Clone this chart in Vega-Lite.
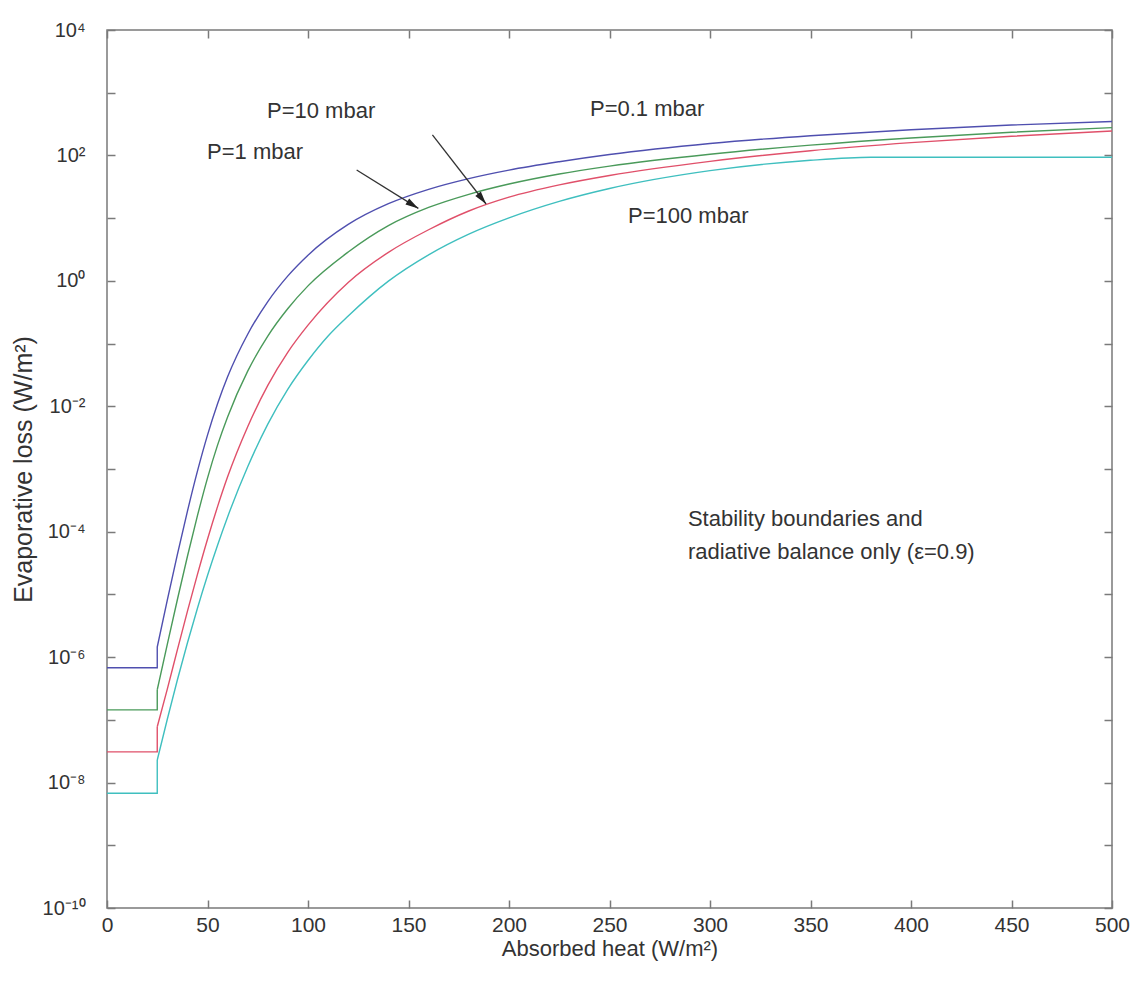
{
  "$schema": "https://vega.github.io/schema/vega-lite/v6.json",
  "width": 1005,
  "height": 878,
  "autosize": {"type": "none"},
  "padding": {"left": 107, "top": 30, "right": 22, "bottom": 74},
  "background": "white",
  "config": {
    "view": {"stroke": "#7a7a7a", "strokeWidth": 1.5},
    "font": "Liberation Sans",
    "axis": {
      "grid": false,
      "domain": false,
      "tickColor": "#7a7a7a",
      "tickWidth": 1.5,
      "tickSize": -8,
      "labelColor": "#333333",
      "labelFont": "Liberation Sans",
      "labelFlush": false,
      "labelOverlap": false,
      "labelBound": false,
      "titleColor": "#333333",
      "titleFont": "Liberation Sans",
      "titleFontWeight": "normal"
    }
  },
  "datasets": {
    "curves": [
      {"P": "0.1 mbar", "i": 0, "heat": 0, "loss": 6.76e-7},
      {"P": "0.1 mbar", "i": 1, "heat": 25, "loss": 6.76e-7},
      {"P": "0.1 mbar", "i": 2, "heat": 25, "loss": 1.45e-6},
      {"P": "0.1 mbar", "i": 3, "heat": 30, "loss": 8.13e-6},
      {"P": "0.1 mbar", "i": 4, "heat": 35, "loss": 4.32e-5},
      {"P": "0.1 mbar", "i": 5, "heat": 40, "loss": 2.11e-4},
      {"P": "0.1 mbar", "i": 6, "heat": 45, "loss": 9.23e-4},
      {"P": "0.1 mbar", "i": 7, "heat": 50, "loss": 3.47e-3},
      {"P": "0.1 mbar", "i": 8, "heat": 55, "loss": 1.096e-2},
      {"P": "0.1 mbar", "i": 9, "heat": 60, "loss": 2.95e-2},
      {"P": "0.1 mbar", "i": 10, "heat": 70, "loss": 0.141},
      {"P": "0.1 mbar", "i": 11, "heat": 80, "loss": 0.468},
      {"P": "0.1 mbar", "i": 12, "heat": 90, "loss": 1.202},
      {"P": "0.1 mbar", "i": 13, "heat": 100, "loss": 2.57},
      {"P": "0.1 mbar", "i": 14, "heat": 120, "loss": 7.94},
      {"P": "0.1 mbar", "i": 15, "heat": 140, "loss": 17.0},
      {"P": "0.1 mbar", "i": 16, "heat": 160, "loss": 28.8},
      {"P": "0.1 mbar", "i": 17, "heat": 180, "loss": 42.7},
      {"P": "0.1 mbar", "i": 18, "heat": 200, "loss": 58.3},
      {"P": "0.1 mbar", "i": 19, "heat": 225, "loss": 79.4},
      {"P": "0.1 mbar", "i": 20, "heat": 250, "loss": 103.5},
      {"P": "0.1 mbar", "i": 21, "heat": 300, "loss": 155},
      {"P": "0.1 mbar", "i": 22, "heat": 350, "loss": 206.5},
      {"P": "0.1 mbar", "i": 23, "heat": 400, "loss": 257},
      {"P": "0.1 mbar", "i": 24, "heat": 450, "loss": 305.5},
      {"P": "0.1 mbar", "i": 25, "heat": 500, "loss": 347},

      {"P": "1 mbar", "i": 0, "heat": 0, "loss": 1.445e-7},
      {"P": "1 mbar", "i": 1, "heat": 25, "loss": 1.445e-7},
      {"P": "1 mbar", "i": 2, "heat": 25, "loss": 3.02e-7},
      {"P": "1 mbar", "i": 3, "heat": 30, "loss": 1.603e-6},
      {"P": "1 mbar", "i": 4, "heat": 35, "loss": 8.22e-6},
      {"P": "1 mbar", "i": 5, "heat": 40, "loss": 4.03e-5},
      {"P": "1 mbar", "i": 6, "heat": 45, "loss": 1.80e-4},
      {"P": "1 mbar", "i": 7, "heat": 50, "loss": 7.16e-4},
      {"P": "1 mbar", "i": 8, "heat": 55, "loss": 2.40e-3},
      {"P": "1 mbar", "i": 9, "heat": 60, "loss": 6.76e-3},
      {"P": "1 mbar", "i": 10, "heat": 70, "loss": 3.63e-2},
      {"P": "1 mbar", "i": 11, "heat": 80, "loss": 0.132},
      {"P": "1 mbar", "i": 12, "heat": 90, "loss": 0.363},
      {"P": "1 mbar", "i": 13, "heat": 100, "loss": 0.832},
      {"P": "1 mbar", "i": 14, "heat": 120, "loss": 2.88},
      {"P": "1 mbar", "i": 15, "heat": 140, "loss": 7.59},
      {"P": "1 mbar", "i": 16, "heat": 160, "loss": 14.8},
      {"P": "1 mbar", "i": 17, "heat": 180, "loss": 24.0},
      {"P": "1 mbar", "i": 18, "heat": 200, "loss": 35.0},
      {"P": "1 mbar", "i": 19, "heat": 225, "loss": 50.6},
      {"P": "1 mbar", "i": 20, "heat": 250, "loss": 67.5},
      {"P": "1 mbar", "i": 21, "heat": 300, "loss": 104.5},
      {"P": "1 mbar", "i": 22, "heat": 350, "loss": 146},
      {"P": "1 mbar", "i": 23, "heat": 400, "loss": 190},
      {"P": "1 mbar", "i": 24, "heat": 450, "loss": 234},
      {"P": "1 mbar", "i": 25, "heat": 500, "loss": 278},

      {"P": "10 mbar", "i": 0, "heat": 0, "loss": 3.09e-8},
      {"P": "10 mbar", "i": 1, "heat": 25, "loss": 3.09e-8},
      {"P": "10 mbar", "i": 2, "heat": 25, "loss": 7.76e-8},
      {"P": "10 mbar", "i": 3, "heat": 30, "loss": 3.09e-7},
      {"P": "10 mbar", "i": 4, "heat": 35, "loss": 1.303e-6},
      {"P": "10 mbar", "i": 5, "heat": 40, "loss": 5.37e-6},
      {"P": "10 mbar", "i": 6, "heat": 45, "loss": 2.09e-5},
      {"P": "10 mbar", "i": 7, "heat": 50, "loss": 7.59e-5},
      {"P": "10 mbar", "i": 8, "heat": 55, "loss": 2.51e-4},
      {"P": "10 mbar", "i": 9, "heat": 60, "loss": 7.50e-4},
      {"P": "10 mbar", "i": 10, "heat": 70, "loss": 4.73e-3},
      {"P": "10 mbar", "i": 11, "heat": 80, "loss": 2.16e-2},
      {"P": "10 mbar", "i": 12, "heat": 90, "loss": 7.33e-2},
      {"P": "10 mbar", "i": 13, "heat": 100, "loss": 0.197},
      {"P": "10 mbar", "i": 14, "heat": 120, "loss": 0.944},
      {"P": "10 mbar", "i": 15, "heat": 140, "loss": 2.85},
      {"P": "10 mbar", "i": 16, "heat": 160, "loss": 6.53},
      {"P": "10 mbar", "i": 17, "heat": 180, "loss": 13.0},
      {"P": "10 mbar", "i": 18, "heat": 200, "loss": 21.6},
      {"P": "10 mbar", "i": 19, "heat": 225, "loss": 33.9},
      {"P": "10 mbar", "i": 20, "heat": 250, "loss": 47.9},
      {"P": "10 mbar", "i": 21, "heat": 300, "loss": 80.4},
      {"P": "10 mbar", "i": 22, "heat": 350, "loss": 119},
      {"P": "10 mbar", "i": 23, "heat": 400, "loss": 160},
      {"P": "10 mbar", "i": 24, "heat": 450, "loss": 202},
      {"P": "10 mbar", "i": 25, "heat": 500, "loss": 245},

      {"P": "100 mbar", "i": 0, "heat": 0, "loss": 6.76e-9},
      {"P": "100 mbar", "i": 1, "heat": 25, "loss": 6.76e-9},
      {"P": "100 mbar", "i": 2, "heat": 25, "loss": 2.29e-8},
      {"P": "100 mbar", "i": 3, "heat": 30, "loss": 1.023e-7},
      {"P": "100 mbar", "i": 4, "heat": 35, "loss": 4.32e-7},
      {"P": "100 mbar", "i": 5, "heat": 40, "loss": 1.68e-6},
      {"P": "100 mbar", "i": 6, "heat": 45, "loss": 6.03e-6},
      {"P": "100 mbar", "i": 7, "heat": 50, "loss": 2.0e-5},
      {"P": "100 mbar", "i": 8, "heat": 55, "loss": 6.10e-5},
      {"P": "100 mbar", "i": 9, "heat": 60, "loss": 1.72e-4},
      {"P": "100 mbar", "i": 10, "heat": 70, "loss": 1.084e-3},
      {"P": "100 mbar", "i": 11, "heat": 80, "loss": 5.19e-3},
      {"P": "100 mbar", "i": 12, "heat": 90, "loss": 1.88e-2},
      {"P": "100 mbar", "i": 13, "heat": 100, "loss": 5.37e-2},
      {"P": "100 mbar", "i": 14, "heat": 110, "loss": 0.132},
      {"P": "100 mbar", "i": 15, "heat": 120, "loss": 0.275},
      {"P": "100 mbar", "i": 16, "heat": 140, "loss": 0.989},
      {"P": "100 mbar", "i": 17, "heat": 160, "loss": 2.60},
      {"P": "100 mbar", "i": 18, "heat": 180, "loss": 5.56},
      {"P": "100 mbar", "i": 19, "heat": 200, "loss": 10.1},
      {"P": "100 mbar", "i": 20, "heat": 225, "loss": 18.5},
      {"P": "100 mbar", "i": 21, "heat": 250, "loss": 29.7},
      {"P": "100 mbar", "i": 22, "heat": 300, "loss": 57.2},
      {"P": "100 mbar", "i": 23, "heat": 350, "loss": 83.6},
      {"P": "100 mbar", "i": 24, "heat": 380, "loss": 93.3},
      {"P": "100 mbar", "i": 25, "heat": 500, "loss": 93.3}
    ],
    "notes": [
      {"label": "P=10 mbar", "heat": 79.6, "loss": 513},
      {"label": "P=1 mbar", "heat": 49.8, "loss": 113},
      {"label": "P=0.1 mbar", "heat": 240.3, "loss": 550},
      {"label": "P=100 mbar", "heat": 259.2, "loss": 10.8},
      {"label": "Stability boundaries and", "heat": 289, "loss": 1.6e-4},
      {"label": "radiative balance only (ε=0.9)", "heat": 289, "loss": 4.8e-5}
    ],
    "arrows": [
      {"id": 1, "x0": 124.2, "y0": 58.6, "x1": 154.9, "y1": 14.3},
      {"id": 2, "x0": 161.9, "y0": 212, "x1": 188.6, "y1": 16.8}
    ]
  },
  "layer": [
    {
      "data": {"name": "curves"},
      "transform": [{"filter": "datum.i <= 2"}],
      "mark": {"type": "line", "strokeWidth": 1.4},
      "encoding": {
        "x": {"field": "heat", "type": "quantitative", "scale": {"domain": [0, 500], "nice": false, "zero": false}, "axis": null},
        "y": {"field": "loss", "type": "quantitative", "scale": {"type": "log", "domain": [1e-10, 10000], "nice": false}, "axis": null},
        "color": {
          "field": "P", "type": "nominal",
          "scale": {"domain": ["0.1 mbar", "1 mbar", "10 mbar", "100 mbar"], "range": ["#4f4faf", "#4a9a5a", "#e0506a", "#3fbfbf"]},
          "legend": null
        },
        "order": {"field": "i", "type": "quantitative"}
      }
    },
    {
      "data": {"name": "curves"},
      "transform": [{"filter": "datum.i >= 2"}],
      "mark": {"type": "line", "strokeWidth": 1.4, "interpolate": "monotone"},
      "encoding": {
        "x": {
          "field": "heat", "type": "quantitative",
          "scale": {"domain": [0, 500], "nice": false, "zero": false},
          "axis": {
            "orient": "bottom",
            "values": [0, 50, 100, 150, 200, 250, 300, 350, 400, 450, 500],
            "labelFontSize": 21,
            "labelPadding": 14,
            "title": "Absorbed heat (W/m²)",
            "titleFontSize": 22,
            "titlePadding": 3
          }
        },
        "y": {
          "field": "loss", "type": "quantitative",
          "scale": {"type": "log", "domain": [1e-10, 10000], "nice": false},
          "axis": {
            "orient": "left",
            "values": [1e-10, 1e-9, 1e-8, 1e-7, 1e-6, 1e-5, 1e-4, 1e-3, 1e-2, 1e-1, 1, 10, 100, 1000, 10000],
            "labelExpr": "round(log(datum.value)/LN10)==4?'10⁴':round(log(datum.value)/LN10)==2?'10²':round(log(datum.value)/LN10)==0?'10⁰':round(log(datum.value)/LN10)==-2?'10⁻²':round(log(datum.value)/LN10)==-4?'10⁻⁴':round(log(datum.value)/LN10)==-6?'10⁻⁶':round(log(datum.value)/LN10)==-8?'10⁻⁸':round(log(datum.value)/LN10)==-10?'10⁻¹⁰':''",
            "labelFontSize": 20,
            "labelPadding": 30,
            "title": "Evaporative loss (W/m²)",
            "titleFontSize": 25,
            "titlePadding": 6
          }
        },
        "color": {
          "field": "P", "type": "nominal",
          "scale": {"domain": ["0.1 mbar", "1 mbar", "10 mbar", "100 mbar"], "range": ["#4f4faf", "#4a9a5a", "#e0506a", "#3fbfbf"]},
          "legend": null
        },
        "order": {"field": "i", "type": "quantitative"}
      }
    },
    {
      "data": {"name": "notes"},
      "mark": {"type": "text", "align": "left", "baseline": "middle", "fontSize": 22, "color": "#333333", "font": "Liberation Sans"},
      "encoding": {
        "x": {"field": "heat", "type": "quantitative", "scale": {"domain": [0, 500], "nice": false, "zero": false}, "axis": null},
        "y": {"field": "loss", "type": "quantitative", "scale": {"type": "log", "domain": [1e-10, 10000], "nice": false}, "axis": null},
        "text": {"field": "label"}
      }
    },
    {
      "data": {"name": "arrows"},
      "mark": {"type": "rule", "color": "#333333", "strokeWidth": 1.3},
      "encoding": {
        "x": {"field": "x0", "type": "quantitative", "scale": {"domain": [0, 500], "nice": false, "zero": false}, "axis": null},
        "y": {"field": "y0", "type": "quantitative", "scale": {"type": "log", "domain": [1e-10, 10000], "nice": false}, "axis": null},
        "x2": {"field": "x1"},
        "y2": {"field": "y1"}
      }
    },
    {
      "data": {"name": "arrows"},
      "transform": [{"filter": "datum.id == 1"}],
      "mark": {"type": "point", "shape": "M0,0L-0.35,1.3L0.35,1.3Z", "filled": true, "color": "#222222", "opacity": 1, "size": 400, "angle": 122},
      "encoding": {
        "x": {"field": "x1", "type": "quantitative", "scale": {"domain": [0, 500], "nice": false, "zero": false}, "axis": null},
        "y": {"field": "y1", "type": "quantitative", "scale": {"type": "log", "domain": [1e-10, 10000], "nice": false}, "axis": null}
      }
    },
    {
      "data": {"name": "arrows"},
      "transform": [{"filter": "datum.id == 2"}],
      "mark": {"type": "point", "shape": "M0,0L-0.35,1.3L0.35,1.3Z", "filled": true, "color": "#222222", "opacity": 1, "size": 400, "angle": 142},
      "encoding": {
        "x": {"field": "x1", "type": "quantitative", "scale": {"domain": [0, 500], "nice": false, "zero": false}, "axis": null},
        "y": {"field": "y1", "type": "quantitative", "scale": {"type": "log", "domain": [1e-10, 10000], "nice": false}, "axis": null}
      }
    },
    {
      "data": {"values": [{"heat": 0, "loss": 1}]},
      "mark": {"type": "point", "opacity": 0},
      "encoding": {
        "x": {
          "field": "heat", "type": "quantitative",
          "scale": {"domain": [0, 500], "nice": false, "zero": false},
          "axis": {"orient": "top", "values": [0, 50, 100, 150, 200, 250, 300, 350, 400, 450, 500], "labels": false, "title": null}
        },
        "y": {
          "field": "loss", "type": "quantitative",
          "scale": {"type": "log", "domain": [1e-10, 10000], "nice": false},
          "axis": {"orient": "right", "values": [1e-10, 1e-9, 1e-8, 1e-7, 1e-6, 1e-5, 1e-4, 1e-3, 1e-2, 1e-1, 1, 10, 100, 1000, 10000], "labels": false, "title": null}
        }
      }
    }
  ],
  "resolve": {"axis": {"x": "independent", "y": "independent"}}
}
